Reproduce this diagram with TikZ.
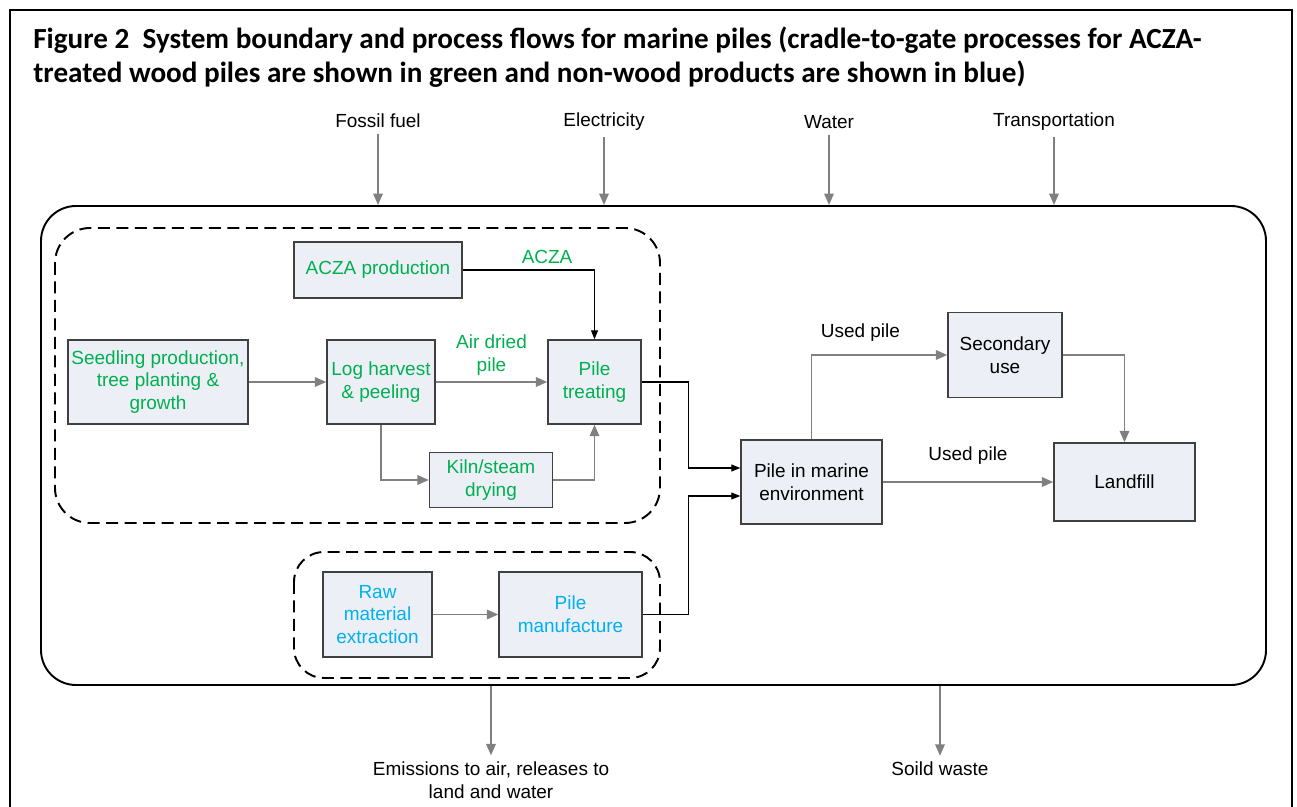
\documentclass[tikz,border=0pt]{standalone}
\usepackage{fontspec}
\setmainfont{Liberation Sans}
\newfontfamily\titlefont{Carlito}
\usepackage{tikz}
\usetikzlibrary{arrows.meta,positioning}

\definecolor{woodgreen}{RGB}{0,176,80}
\definecolor{nonwoodblue}{RGB}{0,176,240}
\definecolor{boxfill}{RGB}{236,239,245}
\definecolor{boxline}{RGB}{64,64,64}
\definecolor{flowgray}{RGB}{128,128,128}

\begin{document}
\begin{tikzpicture}[x=0.2mm,y=-0.2mm,on grid,
    font=\fontsize{10.8}{13}\selectfont]
  \tikzstyle{proc}=[rectangle,draw=boxline,fill=boxfill,line width=0.8pt,
                    inner sep=0pt,align=center,minimum height=16.8mm]
  \tikzstyle{flow}=[draw=flowgray,line width=1.1pt,
                    -{Triangle[length=2.3mm,width=1.9mm]}]
  \tikzstyle{feed}=[draw=black,line width=0.6pt,
                    -{Triangle[length=1.8mm,width=1.4mm]}]
  \tikzstyle{group}=[draw=black,line width=1.1pt,
                     dash pattern=on 2.4mm off 1.3mm]

  \useasboundingbox (0,0) rectangle (1297,807);
  \draw[line width=1.1pt] (10,807) -- (10,10) -- (1292,10) -- (1292,807);

  % caption
  \node[anchor=base west,align=left,inner sep=0pt,
        font=\titlefont\bfseries\fontsize{16.6}{19.7}\selectfont] (title) at (33,83)
    {Figure 2\ \ System boundary and process flows for marine piles (cradle-to-gate processes for ACZA-\\
     treated wood piles are shown in green and non-wood products are shown in blue)};

  % system boundary and groups
  \node[draw,line width=1.1pt,rounded corners=7mm,minimum width=245mm,
        minimum height=95.8mm] (sys) at (653.5,445.5) {};
  \draw[group,rounded corners=7mm] (55,228) rectangle (660,523);
  \draw[group,rounded corners=6mm] (294,552) rectangle (660,678);

  % wood pile processes
  \node[proc,minimum width=36mm,text=woodgreen] (seed) at (158,382)
    {Seedling production,\\tree planting \&\\growth};
  \node[proc,minimum width=21.6mm,text=woodgreen] (log) [right=44.6mm of seed]
    {Log harvest\\\& peeling};
  \node[proc,minimum width=18.6mm,text=woodgreen] (treat) [right=42.7mm of log]
    {Pile\\treating};
  \node[proc,minimum width=33.6mm,minimum height=11.2mm,text=woodgreen] (acza)
    at (378,270) {ACZA production};
  \node[proc,minimum width=24.6mm,minimum height=11mm,text=woodgreen] (kiln)
    at (491,480) {Kiln/steam\\drying};

  % non-wood processes
  \node[proc,minimum width=21.8mm,minimum height=17mm,text=nonwoodblue] (raw)
    at (377.5,614.5) {Raw\\material\\extraction};
  \node[proc,minimum width=28.6mm,minimum height=17mm,text=nonwoodblue] (manuf)
    [right=38.6mm of raw] {Pile\\manufacture};

  % use and end of life
  \node[proc,minimum width=28.2mm] (marine) at (811.5,482) {Pile in marine\\environment};
  \node[proc,minimum width=22.8mm,minimum height=17mm] (second) at (1005,355) {Secondary\\use};
  \node[proc,minimum width=28.2mm,minimum height=15.6mm] (landfill) at (1124.5,482) {Landfill};

  \coordinate (in1) at ([yshift=2.8mm]marine.west);
  \coordinate (in2) at ([yshift=-2.8mm]marine.west);

  % inputs and outputs
  \node (fossil) at (378,121) {Fossil fuel};
  \node (elec) at (604,122) {Electricity};
  \node (water) at (829,122) {Water};
  \node (trans) at (1054,122) {Transportation};
  \node[align=center] (emis) at (491,780) {Emissions to air, releases to\\land and water};
  \node (waste) at (940,769) {Soild waste};

  \foreach \src in {fossil,elec,water,trans}
    \draw[flow] (\src) -- (\src |- sys.north);
  \draw[flow] (sys.south -| emis) -- (emis);
  \draw[flow] (sys.south -| waste) -- (waste);

  % process flows
  \draw[flow] (seed) -- (log);
  \draw[flow] (log) -- node[above,text=woodgreen,align=center] {Air dried\\pile} (treat);
  \draw[feed] (acza) -| node[pos=0.32,above,text=woodgreen] {ACZA} (treat);
  \draw[flow] (log) |- (kiln);
  \draw[flow] (kiln) -| (treat);
  \draw[flow] (raw) -- (manuf);
  \draw[feed] (treat.east) -- ++(47,0) |- (in1);
  \draw[feed] (manuf.east) -- ++(46,0) |- (in2);
  \draw[flow] (marine) |- node[pos=0.68,above=1.3mm] {Used pile} (second);
  \draw[flow] (marine) -- node[above=2.1mm] {Used pile} (landfill);
  \draw[flow] (second) -| (landfill);
\end{tikzpicture}
\end{document}
